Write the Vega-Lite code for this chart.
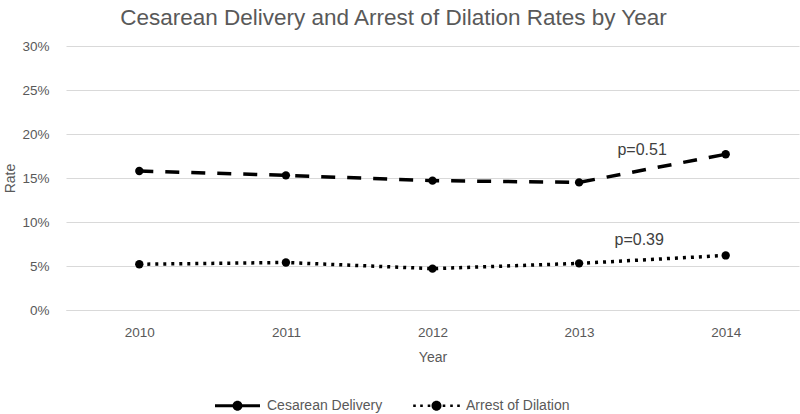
{
  "$schema": "https://vega.github.io/schema/vega-lite/v6.json",
  "width": 733,
  "height": 264,
  "autosize": "none",
  "padding": {"left": 66, "top": 46, "right": 1, "bottom": 104},
  "background": "white",
  "config": {"view": {"stroke": null}, "font": "Liberation Sans"},
  "title": {
    "text": "Cesarean Delivery and Arrest of Dilation Rates by Year",
    "fontSize": 22.5,
    "fontWeight": "normal",
    "color": "#595959",
    "anchor": "middle",
    "frame": "group",
    "dx": -39,
    "offset": 10
  },
  "datasets": {
    "lines": [
      {"year": 2010, "series": "Cesarean Delivery", "rate": 0.158},
      {"year": 2011, "series": "Cesarean Delivery", "rate": 0.153},
      {"year": 2012, "series": "Cesarean Delivery", "rate": 0.147},
      {"year": 2013, "series": "Cesarean Delivery", "rate": 0.145},
      {"year": 2014, "series": "Cesarean Delivery", "rate": 0.177},
      {"year": 2010, "series": "Arrest of Dilation", "rate": 0.052},
      {"year": 2011, "series": "Arrest of Dilation", "rate": 0.054},
      {"year": 2012, "series": "Arrest of Dilation", "rate": 0.047},
      {"year": 2013, "series": "Arrest of Dilation", "rate": 0.053},
      {"year": 2014, "series": "Arrest of Dilation", "rate": 0.062}
    ],
    "labels": [
      {"year": 2013.43, "rate": 0.182, "label": "p=0.51"},
      {"year": 2013.41, "rate": 0.0795, "label": "p=0.39"}
    ]
  },
  "layer": [
    {
      "data": {"name": "lines"},
      "mark": {"type": "line", "strokeWidth": 3.5, "color": "black"},
      "encoding": {
        "x": {
          "field": "year",
          "type": "quantitative",
          "scale": {"domain": [2009.5, 2014.5], "nice": false, "zero": false},
          "axis": {
            "values": [2010, 2011, 2012, 2013, 2014],
            "format": "d",
            "title": "Year",
            "grid": false,
            "ticks": false,
            "domainColor": "#d9d9d9",
            "labelFontSize": 13.5,
            "labelColor": "#595959",
            "labelPadding": 15,
            "labelFlush": false,
            "titleFontSize": 14,
            "titleFontWeight": "normal",
            "titleColor": "#595959",
            "titleY": 47,
            "titleBaseline": "middle"
          }
        },
        "y": {
          "field": "rate",
          "type": "quantitative",
          "scale": {"domain": [0, 0.3], "nice": false},
          "axis": {
            "values": [0, 0.05, 0.1, 0.15, 0.2, 0.25, 0.3],
            "format": ".0%",
            "title": "Rate",
            "domain": false,
            "ticks": false,
            "gridColor": "#d9d9d9",
            "labelFontSize": 13.5,
            "labelColor": "#595959",
            "labelPadding": 17,
            "titleFontSize": 14,
            "titleFontWeight": "normal",
            "titleColor": "#595959",
            "titleX": -56,
            "titleY": 132,
            "titleAngle": -90,
            "titleAlign": "center",
            "titleBaseline": "middle"
          }
        },
        "strokeDash": {
          "field": "series",
          "type": "nominal",
          "scale": {
            "domain": ["Cesarean Delivery", "Arrest of Dilation"],
            "range": [[14, 12], [3, 5]]
          },
          "legend": {
            "title": null,
            "orient": "none",
            "direction": "horizontal",
            "legendX": 149,
            "legendY": 337,
            "padding": 0,
            "symbolSize": 2025,
            "symbolStrokeWidth": 0,
            "symbolFillColor": "black",
            "labelFontSize": 14,
            "labelColor": "#595959",
            "labelOffset": 7,
            "columnPadding": 30
          }
        }
      }
    },
    {
      "data": {"name": "lines"},
      "mark": {"type": "circle", "size": 70, "opacity": 1, "color": "black"},
      "encoding": {
        "x": {"field": "year", "type": "quantitative"},
        "y": {"field": "rate", "type": "quantitative"}
      }
    },
    {
      "data": {"name": "lines"},
      "mark": {"type": "point", "filled": true, "size": 0, "color": "black"},
      "encoding": {
        "x": {"field": "year", "type": "quantitative"},
        "y": {"field": "rate", "type": "quantitative"},
        "shape": {
          "field": "series",
          "type": "nominal",
          "scale": {
            "domain": ["Cesarean Delivery", "Arrest of Dilation"],
            "range": [
              "M-1,-0.067H1V0.067H-1ZM0.222,0A0.222,0.222,0,1,1,-0.222,0A0.222,0.222,0,1,1,0.222,0Z",
              "M-1.036,-0.058h0.116v0.116h-0.116ZM-0.725,-0.058h0.116v0.116h-0.116ZM-0.391,-0.058h0.116v0.116h-0.116ZM0.275,-0.058h0.116v0.116h-0.116ZM0.609,-0.058h0.116v0.116h-0.116ZM0.92,-0.058h0.116v0.116h-0.116ZM0.222,0A0.222,0.222,0,1,1,-0.222,0A0.222,0.222,0,1,1,0.222,0Z"
            ]
          },
          "legend": {
            "title": null,
            "orient": "none",
            "direction": "horizontal",
            "legendX": 149,
            "legendY": 337,
            "padding": 0,
            "symbolSize": 2025,
            "symbolStrokeWidth": 0,
            "symbolFillColor": "black",
            "labelFontSize": 14,
            "labelColor": "#595959",
            "labelOffset": 7,
            "columnPadding": 30
          }
        }
      }
    },
    {
      "data": {"name": "labels"},
      "mark": {"type": "text", "fontSize": 16, "color": "#404040", "baseline": "middle", "align": "center"},
      "encoding": {
        "x": {"field": "year", "type": "quantitative"},
        "y": {"field": "rate", "type": "quantitative"},
        "text": {"field": "label"}
      }
    }
  ]
}
